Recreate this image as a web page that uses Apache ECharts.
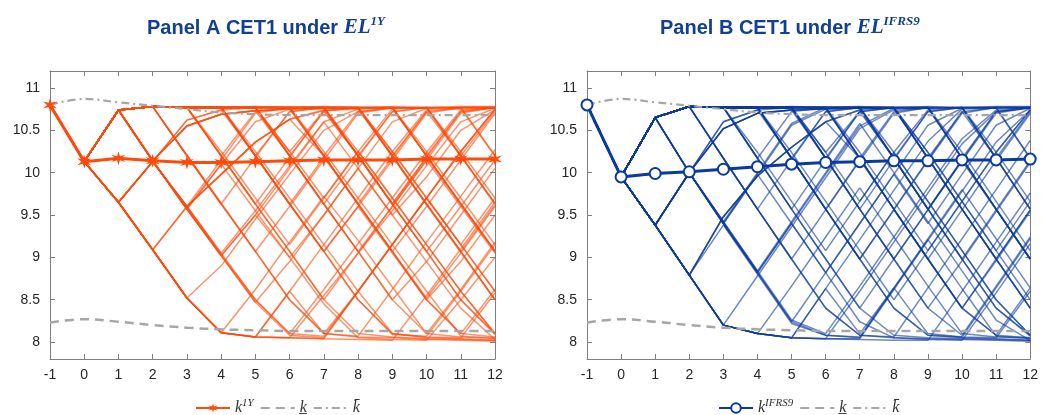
<!DOCTYPE html>
<html>
<head>
<meta charset="utf-8">
<script src="https://cdn.jsdelivr.net/npm/echarts@6/dist/echarts.min.js"></script>
<style>
html,body{margin:0;padding:0;background:#fff;}
#chart{width:1041px;height:415px;}
</style>
</head>
<body>
<div id="chart"></div>
<script>
// ---- data ----
const years = [-1,0,1,2,3,4,5,6,7,8,9,10,11,12];
const yTicks = [8,8.5,9,9.5,10,10.5,11];
const meanA = [10.8,10.13,10.17,10.14,10.12,10.12,10.13,10.14,10.15,10.15,10.15,10.16,10.16,10.16];
const meanB = [10.8,9.95,9.99,10.01,10.04,10.07,10.1,10.12,10.13,10.14,10.14,10.15,10.15,10.16];
const kLow  = [8.23,8.27,8.24,8.2,8.17,8.15,8.14,8.13,8.13,8.13,8.13,8.13,8.13,8.13];
const kHigh = [10.8,10.87,10.83,10.79,10.75,10.71,10.69,10.68,10.68,10.68,10.68,10.68,10.68,10.68];

const pathsA = [
[10.8,10.13,10.74,10.78,10.77,10.77,10.78,10.77,10.78,10.77,10.78,10.77,10.78,10.78],
[10.8,10.13,10.74,10.14,10.55,10.69,10.73,10.75,10.75,10.76,10.76,10.76,10.77,10.77],
[10.8,10.13,9.65,9.09,8.52,8.11,8.06,8.6,9.15,9.7,10.25,10.74,10.75,10.76],
[10.8,10.13,9.65,10.13,9.6,9.98,10.36,10.63,10.73,10.75,10.19,9.62,9.06,8.5],
[10.8,10.13,10.74,10.78,10.21,9.64,9.07,8.5,8.1,8.07,8.62,9.18,9.72,10.27],
[10.8,10.13,10.74,10.14,9.57,9.02,9.5,10.05,10.6,10.75,10.76,10.2,9.64,9.08],
[10.8,10.13,9.65,9.09,9.6,10.15,10.7,10.77,10.2,9.63,9.07,9.6,10.15,10.7],
[10.8,10.13,10.74,10.78,10.77,10.2,9.63,10.18,10.73,10.77,10.2,9.63,9.07,8.5],
[10.8,10.13,10.74,10.78,10.77,10.76,10.2,9.63,9.07,8.5,8.09,8.07,8.6,9.15],
[10.8,10.13,10.74,10.78,10.77,10.77,10.76,10.2,9.63,10.18,10.72,10.77,10.76,10.2],
[10.8,10.13,10.74,10.78,10.77,10.77,10.77,10.76,10.2,9.63,9.07,8.5,8.1,8.06],
[10.8,10.13,10.74,10.78,10.77,10.77,10.77,10.77,10.76,10.2,9.63,9.07,9.6,10.15],
[10.8,10.13,10.74,10.78,10.77,10.77,10.77,10.77,10.77,10.76,10.2,9.63,9.07,8.5],
[10.8,10.13,10.74,10.78,10.77,10.77,10.77,10.77,10.77,10.77,10.76,10.2,10.72,10.77],
[10.8,10.13,10.74,10.78,10.77,10.77,10.77,10.77,10.77,10.77,10.77,10.76,10.2,9.64],
[10.8,10.13,10.74,10.14,10.55,10.69,10.73,10.2,9.63,9.07,8.5,8.1,8.62,9.18],
[10.8,10.13,10.74,10.14,10.55,10.69,10.73,10.75,10.2,9.63,10.18,10.72,10.2,9.63],
[10.8,10.13,9.65,10.13,9.6,9.98,10.36,10.63,10.2,9.63,9.07,8.52,9.05,9.6],
[10.8,10.13,9.65,10.13,9.6,9.03,8.5,8.1,8.62,9.16,9.7,10.24,10.74,10.77],
[10.8,10.13,9.65,9.09,8.52,8.9,9.45,9.98,10.5,10.72,10.76,10.77,10.2,9.63],
[10.8,10.13,9.65,9.09,8.52,8.11,8.06,8.05,8.04,8.6,9.15,9.7,10.25,10.74],
[10.8,10.13,9.65,9.09,8.52,8.11,8.06,8.05,8.04,8.03,8.02,8.55,9.1,9.65],
[10.8,10.13,10.74,10.14,9.57,9.02,8.47,8.08,8.05,8.6,9.15,8.6,8.07,8.04],
[10.8,10.13,10.74,10.78,10.2,9.63,10.18,10.72,10.77,10.77,10.2,10.72,10.77,10.77],
[10.8,10.13,10.74,10.78,10.77,10.2,10.72,10.77,10.77,10.2,9.63,10.18,10.72,10.77],
[10.8,10.13,10.74,10.78,10.77,10.77,10.2,10.72,10.77,10.77,10.77,10.2,9.63,9.07],
[10.8,10.13,9.65,9.09,9.6,9.05,8.5,8.1,8.07,8.6,8.1,8.06,8.05,8.58],
[10.8,10.13,9.65,10.13,10.62,10.74,10.77,10.2,10.72,10.2,9.63,9.07,8.5,8.1],
[10.8,10.13,10.74,10.14,9.57,10.1,10.6,10.75,10.77,10.2,9.63,9.07,8.5,8.09],
[10.8,10.13,10.74,10.78,10.2,9.63,9.07,9.6,10.15,10.7,10.77,10.77,10.77,10.2],
[10.8,10.13,10.74,10.78,10.77,10.2,9.63,9.07,8.5,9.05,9.6,10.15,10.7,10.77],
[10.8,10.13,10.74,10.78,10.77,10.77,10.2,9.63,9.07,9.6,9.05,8.5,8.1,8.62],
[10.8,10.13,10.74,10.78,10.77,10.77,10.77,10.2,9.63,9.07,8.5,8.95,9.5,10.05],
[10.8,10.13,10.74,10.78,10.77,10.77,10.77,10.77,10.2,10.72,10.77,10.2,9.63,9.07],
[10.8,10.13,10.74,10.78,10.77,10.77,10.77,10.77,10.77,10.2,10.72,10.77,10.2,10.72],
[10.8,10.13,9.65,9.09,8.52,8.11,8.62,9.18,9.72,9.2,8.65,8.1,8.06,8.05],
[10.8,10.13,10.74,10.14,10.55,10.69,10.73,10.75,10.76,10.76,10.2,9.63,9.07,9.62],
[10.8,10.13,9.65,10.13,9.6,9.98,10.36,10.63,10.74,10.2,9.63,10.18,9.63,9.07],
[10.8,10.13,10.74,10.78,10.77,10.77,10.2,9.63,10.18,9.63,9.07,8.5,8.95,9.5],
[10.8,10.13,10.74,10.78,10.77,10.77,10.77,10.2,9.63,9.07,9.6,10.15,9.6,9.05],
[10.8,10.13,9.65,9.09,8.52,8.11,8.06,8.6,8.1,8.6,9.15,9.7,9.15,8.6],
[10.8,10.13,10.74,10.14,9.57,9.02,8.47,8.95,9.5,10.05,10.6,10.76,10.77,10.77],
[10.8,10.13,10.74,10.78,10.77,10.25,9.7,9.15,9.7,10.25,10.75,10.77,10.25,9.7],
[10.8,10.13,10.74,10.78,10.77,10.77,10.25,9.7,9.15,8.6,9.15,9.7,10.25,10.75],
[10.8,10.13,10.74,10.78,10.77,10.77,10.77,10.25,9.7,10.25,9.7,9.15,8.6,8.1],
[10.8,10.13,10.74,10.78,10.77,10.77,10.77,10.77,10.25,9.7,9.15,9.7,9.15,8.6],
[10.8,10.13,10.74,10.78,10.77,10.77,10.77,10.77,10.77,10.25,9.7,9.15,8.6,8.1],
[10.8,10.13,10.74,10.78,10.77,10.77,10.77,10.77,10.77,10.77,10.25,9.7,10.25,10.75],
[10.8,10.13,10.74,10.78,10.77,10.77,10.77,10.77,10.77,10.77,10.77,10.25,9.7,9.15],
[10.8,10.13,9.65,10.13,9.6,9.05,9.55,10.08,10.6,10.05,9.5,8.95,8.4,8.03],
[10.8,10.13,9.65,9.09,8.52,8.11,8.06,8.05,8.55,9.05,9.55,10.08,10.6,10.76],
[10.8,10.13,10.74,10.14,9.57,10.1,9.55,9.0,8.45,8.05,8.03,8.02,8.5,9.0],
[10.8,10.13,10.74,10.78,10.2,9.63,9.07,8.5,8.1,8.06,8.05,8.03,8.02,8.01],
[10.8,10.13,10.74,10.78,10.77,10.2,9.63,9.07,8.5,8.1,8.06,8.04,8.03,8.02],
[10.8,10.13,10.74,10.78,10.77,10.77,10.2,9.63,9.07,8.5,8.1,8.05,8.04,8.02],
[10.8,10.13,10.74,10.14,9.57,9.02,9.5,9.0,9.5,10.05,9.5,9.95,10.5,10.74],
[10.8,10.13,9.65,10.13,10.62,10.74,10.2,9.63,9.07,9.6,10.15,10.7,10.77,10.77],
[10.8,10.13,10.74,10.78,10.77,10.77,10.77,10.25,10.73,10.77,10.25,9.7,9.15,9.7]
];

const pathsB = [
[10.8,9.95,10.65,10.78,10.77,10.77,10.78,10.77,10.78,10.77,10.78,10.77,10.78,10.78],
[10.8,9.95,9.38,10.0,10.52,10.7,10.74,10.75,10.76,10.76,10.76,10.77,10.77,10.77],
[10.8,9.95,9.38,8.79,8.2,8.1,8.05,8.63,9.21,9.79,10.37,10.75,10.76,10.77],
[10.8,9.95,9.38,8.79,9.48,9.96,10.3,10.6,10.74,10.76,10.17,9.57,8.98,8.4],
[10.8,9.95,10.65,10.78,10.17,9.57,8.98,8.4,8.08,8.06,8.64,9.22,9.8,10.38],
[10.8,9.95,10.65,10.0,9.4,8.82,9.4,9.98,10.55,10.76,10.77,10.17,9.57,8.98],
[10.8,9.95,9.38,10.0,9.42,10.0,10.58,10.77,10.17,9.57,8.98,9.56,10.14,10.7],
[10.8,9.95,10.65,10.78,10.77,10.17,9.57,10.15,10.72,10.77,10.17,9.57,8.98,8.4],
[10.8,9.95,10.65,10.78,10.77,10.76,10.17,9.57,8.98,8.4,8.08,8.06,8.64,9.22],
[10.8,9.95,10.65,10.78,10.77,10.77,10.76,10.17,9.57,10.15,10.72,10.77,10.76,10.17],
[10.8,9.95,10.65,10.78,10.77,10.77,10.77,10.76,10.17,9.57,8.98,8.4,8.08,8.05],
[10.8,9.95,10.65,10.78,10.77,10.77,10.77,10.77,10.76,10.17,9.57,8.98,9.56,10.14],
[10.8,9.95,10.65,10.78,10.77,10.77,10.77,10.77,10.77,10.76,10.17,9.57,8.98,8.4],
[10.8,9.95,10.65,10.78,10.77,10.77,10.77,10.77,10.77,10.77,10.76,10.17,10.72,10.77],
[10.8,9.95,10.65,10.78,10.77,10.77,10.77,10.77,10.77,10.77,10.77,10.76,10.17,9.57],
[10.8,9.95,9.38,10.0,10.52,10.7,10.74,10.17,9.57,8.98,8.4,8.08,8.66,9.24],
[10.8,9.95,9.38,10.0,10.52,10.7,10.74,10.75,10.17,9.57,10.15,10.72,10.17,9.57],
[10.8,9.95,9.38,8.79,9.48,9.96,10.3,10.6,10.17,9.57,8.98,8.4,8.98,9.56],
[10.8,9.95,9.38,10.0,9.42,8.84,8.26,8.1,8.66,9.24,9.82,10.4,10.74,10.77],
[10.8,9.95,9.38,8.79,8.2,8.78,9.36,9.94,10.52,10.74,10.76,10.77,10.17,9.57],
[10.8,9.95,9.38,8.79,8.2,8.1,8.05,8.04,8.04,8.62,9.2,9.78,10.36,10.74],
[10.8,9.95,9.38,8.79,8.2,8.1,8.05,8.04,8.03,8.02,8.02,8.6,9.18,9.76],
[10.8,9.95,10.65,10.0,9.4,8.82,8.24,8.08,8.05,8.63,9.21,8.63,8.07,8.04],
[10.8,9.95,10.65,10.78,10.17,9.57,10.15,10.72,10.77,10.77,10.17,10.72,10.77,10.77],
[10.8,9.95,10.65,10.78,10.77,10.17,10.72,10.77,10.77,10.17,9.57,10.15,10.72,10.77],
[10.8,9.95,10.65,10.78,10.77,10.77,10.17,10.72,10.77,10.77,10.77,10.17,9.57,8.98],
[10.8,9.95,9.38,8.79,9.38,8.8,8.22,8.08,8.06,8.64,8.1,8.06,8.05,8.6],
[10.8,9.95,9.38,10.0,10.6,10.74,10.77,10.17,10.72,10.17,9.57,8.98,8.4,8.08],
[10.8,9.95,10.65,10.0,9.4,9.98,10.56,10.75,10.77,10.17,9.57,8.98,8.4,8.07],
[10.8,9.95,10.65,10.78,10.17,9.57,8.98,9.56,10.14,10.7,10.77,10.77,10.77,10.17],
[10.8,9.95,10.65,10.78,10.77,10.17,9.57,8.98,8.4,8.98,9.56,10.14,10.7,10.77],
[10.8,9.95,10.65,10.78,10.77,10.77,10.17,9.57,8.98,9.56,8.98,8.4,8.08,8.64],
[10.8,9.95,10.65,10.78,10.77,10.77,10.77,10.17,9.57,8.98,8.4,8.96,9.54,10.12],
[10.8,9.95,10.65,10.78,10.77,10.77,10.77,10.77,10.17,10.72,10.77,10.17,9.57,8.98],
[10.8,9.95,10.65,10.78,10.77,10.77,10.77,10.77,10.77,10.17,10.72,10.77,10.17,10.72],
[10.8,9.95,9.38,8.79,8.2,8.1,8.66,9.24,9.82,9.24,8.66,8.1,8.06,8.05],
[10.8,9.95,9.38,10.0,10.52,10.7,10.74,10.75,10.76,10.76,10.17,9.57,8.98,9.56],
[10.8,9.95,9.38,8.79,9.48,9.96,10.3,10.6,10.74,10.17,9.57,10.15,9.57,8.98],
[10.8,9.95,10.65,10.78,10.77,10.77,10.17,9.57,10.15,9.57,8.98,8.4,8.96,9.54],
[10.8,9.95,10.65,10.78,10.77,10.77,10.77,10.17,9.57,8.98,9.56,10.14,9.56,8.98],
[10.8,9.95,9.38,8.79,8.2,8.1,8.05,8.63,8.1,8.64,9.22,9.8,9.22,8.64],
[10.8,9.95,10.65,10.0,9.4,8.82,8.24,8.82,9.4,9.98,10.56,10.76,10.77,10.77],
[10.8,9.95,10.65,10.78,10.77,10.24,9.66,9.08,9.66,10.24,10.74,10.77,10.24,9.66],
[10.8,9.95,10.65,10.78,10.77,10.77,10.24,9.66,9.08,8.5,9.08,9.66,10.24,10.74],
[10.8,9.95,10.65,10.78,10.77,10.77,10.77,10.24,9.66,10.24,9.66,9.08,8.5,8.08],
[10.8,9.95,10.65,10.78,10.77,10.77,10.77,10.77,10.24,9.66,9.08,9.66,9.08,8.5],
[10.8,9.95,10.65,10.78,10.77,10.77,10.77,10.77,10.77,10.24,9.66,9.08,8.5,8.08],
[10.8,9.95,10.65,10.78,10.77,10.77,10.77,10.77,10.77,10.77,10.24,9.66,10.24,10.74],
[10.8,9.95,10.65,10.78,10.77,10.77,10.77,10.77,10.77,10.77,10.77,10.24,9.66,9.08],
[10.8,9.95,9.38,10.0,9.42,8.84,9.42,10.0,10.58,10.0,9.42,8.84,8.26,8.02],
[10.8,9.95,9.38,8.79,8.2,8.1,8.05,8.04,8.6,9.18,9.76,10.34,10.72,10.76],
[10.8,9.95,10.65,10.0,9.4,9.98,9.4,8.82,8.24,8.05,8.03,8.02,8.58,9.16],
[10.8,9.95,10.65,10.78,10.17,9.57,8.98,8.4,8.08,8.05,8.04,8.03,8.02,8.01],
[10.8,9.95,10.65,10.78,10.77,10.17,9.57,8.98,8.4,8.08,8.05,8.04,8.03,8.02],
[10.8,9.95,10.65,10.78,10.77,10.77,10.17,9.57,8.98,8.4,8.08,8.05,8.04,8.02],
[10.8,9.95,10.65,10.0,9.4,8.82,9.4,8.82,9.4,9.98,9.4,9.98,10.56,10.76],
[10.8,9.95,9.38,10.0,10.6,10.74,10.17,9.57,8.98,9.56,10.14,10.7,10.77,10.77],
[10.8,9.95,10.65,10.78,10.77,10.77,10.77,10.24,10.72,10.77,10.24,9.66,9.08,9.66]
];

// ---- styles ----
const ORANGE = '#FF4A0A';
const BLUE = '#0B3A9E';
const GRAY = '#A6A6A6';
const AXIS = '#7F7F7F';
const TITLE = '#123F94';
const STAR = 'path://M0,-10 L1.75,-3.03 L8.66,-5 L3.5,0 L8.66,5 L1.75,3.03 L0,10 L-1.75,3.03 L-8.66,5 L-3.5,0 L-8.66,-5 L-1.75,-3.03 Z';

const toXY = arr => years.map((x, i) => [x, arr[i]]);

const chart = echarts.init(document.getElementById('chart'), null, {renderer: 'canvas'});

function xAx(grid, pos) {
  return {
    type: 'value', gridIndex: grid, position: pos, min: -1, max: 12, interval: 1,
    axisLine: {show: true, onZero: false, lineStyle: {color: AXIS, width: 1}},
    axisTick: {show: true, inside: true, length: 5, lineStyle: {color: AXIS}},
    axisLabel: {show: pos === 'bottom', color: '#262626', fontSize: 14, fontFamily: 'Liberation Sans, Arial', margin: 9},
    splitLine: {show: false}
  };
}
function yAx(grid, pos) {
  return {
    type: 'value', gridIndex: grid, position: pos, min: 7.8, max: 11.2,
    axisLine: {show: true, onZero: false, lineStyle: {color: AXIS, width: 1}},
    axisTick: {show: true, inside: true, length: 5, customValues: yTicks, lineStyle: {color: AXIS}},
    axisLabel: {show: pos === 'left', customValues: yTicks, color: '#262626', fontSize: 14, fontFamily: 'Liberation Sans, Arial', margin: 10},
    splitLine: {show: false}
  };
}

const series = [];
function addPanel(paths, mean, color, meanName, symbol, symbolSize, g) {
  paths.forEach((p, i) => {
    series.push({
      type: 'line', name: 'path' + g + '_' + i, xAxisIndex: g * 2, yAxisIndex: g * 2,
      data: toXY(p), symbol: 'none', silent: true, z: 1,
      lineStyle: {color: color, width: 1.5, opacity: 0.6}
    });
  });
  series.push({
    type: 'line', name: 'kLow', xAxisIndex: g * 2, yAxisIndex: g * 2, data: toXY(kLow),
    symbol: 'none', smooth: 0.4, z: 3, color: GRAY,
    lineStyle: {color: GRAY, width: 2.5, type: [9, 6]}
  });
  series.push({
    type: 'line', name: 'kHigh', xAxisIndex: g * 2, yAxisIndex: g * 2, data: toXY(kHigh),
    symbol: 'none', smooth: 0.4, z: 3, color: GRAY,
    lineStyle: {color: GRAY, width: 2.2, type: [8, 4, 2, 4]}
  });
  series.push({
    type: 'line', name: meanName, xAxisIndex: g * 2, yAxisIndex: g * 2, data: toXY(mean),
    symbol: symbol, symbolSize: symbolSize, showAllSymbol: true, z: 5, color: color,
    lineStyle: {color: color, width: 3},
    itemStyle: symbol === 'emptyCircle' ? {color: color, borderColor: color, borderWidth: 2.2} : {color: color}
  });
}
addPanel(pathsA, meanA, ORANGE, 'k1Y', STAR, 14, 0);
addPanel(pathsB, meanB, BLUE, 'kIFRS9', 'emptyCircle', 11, 1);

const legendRich = {
  i: {fontFamily: 'Liberation Serif, DejaVu Serif', fontStyle: 'italic', fontSize: 16, color: '#333', lineHeight: 20},
  s: {fontFamily: 'Liberation Serif, DejaVu Serif', fontStyle: 'italic', fontSize: 11, color: '#333', verticalAlign: 'top', lineHeight: 20}
};
const legendFmt = name => ({
  'k1Y': '{i|k}{s|1Y}',
  'kIFRS9': '{i|k}{s|IFRS9}',
  'kLow': '{i|k\u0332}',
  'kHigh': '{i|k\u0304}'
}[name]);

const titleRich = {
  b: {fontFamily: 'Liberation Sans, Arial', fontWeight: 'bold', fontSize: 20, color: TITLE, lineHeight: 26},
  m: {fontFamily: 'Liberation Serif, DejaVu Serif', fontStyle: 'italic', fontWeight: 'bold', fontSize: 21, color: TITLE, lineHeight: 26},
  s: {fontFamily: 'Liberation Serif, DejaVu Serif', fontStyle: 'italic', fontWeight: 'bold', fontSize: 13, color: TITLE, verticalAlign: 'top', lineHeight: 26}
};

const grayLegendItem = name => ({name: name, itemStyle: {opacity: 0}});

chart.setOption({
  animation: false,
  backgroundColor: '#ffffff',
  title: [
    {text: '{b|Panel A CET1 under }{m|EL}{s|1Y}', left: 142, top: 10, textStyle: {rich: titleRich}},
    {text: '{b|Panel B CET1 under }{m|EL}{s|IFRS9}', left: 655, top: 10, textStyle: {rich: titleRich}}
  ],
  grid: [
    {left: 50, right: 546, top: 71, bottom: 56},
    {left: 587, right: 10, top: 71, bottom: 56}
  ],
  xAxis: [xAx(0, 'bottom'), xAx(0, 'top'), xAx(1, 'bottom'), xAx(1, 'top')],
  yAxis: [yAx(0, 'left'), yAx(0, 'right'), yAx(1, 'left'), yAx(1, 'right')],
  legend: [
    {data: ['k1Y', grayLegendItem('kLow'), grayLegendItem('kHigh')], left: 190, top: 393, itemWidth: 34, itemHeight: 12, itemGap: 6,
     formatter: legendFmt, textStyle: {rich: legendRich}, selectedMode: false},
    {data: ['kIFRS9', grayLegendItem('kLow'), grayLegendItem('kHigh')], left: 713, top: 393, itemWidth: 34, itemHeight: 12, itemGap: 6,
     formatter: legendFmt, textStyle: {rich: legendRich}, selectedMode: false}
  ],
  series: series
});
</script>
</body>
</html>
